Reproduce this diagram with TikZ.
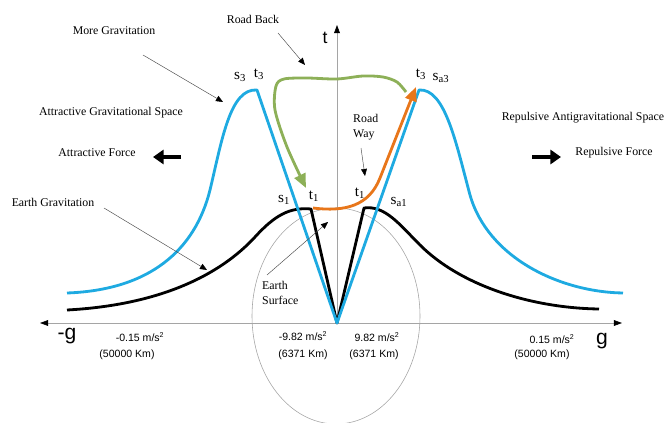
\documentclass[tikz,border=0pt]{standalone}
\usepackage{fontspec}
\setmainfont{Liberation Serif}
\setsansfont{Liberation Sans}
\usetikzlibrary{arrows.meta, positioning}
\definecolor{skyblue}{RGB}{30,170,225}
\definecolor{roadorange}{RGB}{232,118,26}
\definecolor{roadgreen}{RGB}{141,176,88}
\definecolor{axisgray}{RGB}{165,165,165}

\begin{document}
\begin{tikzpicture}[x=0.03cm, y=-0.03cm,
  txt/.style={font=\fontsize{10.1}{12.8}\selectfont, inner sep=0pt},
  numtxt/.style={font=\sffamily\fontsize{9}{11}\selectfont, inner sep=0pt},
  pointtxt/.style={font=\fontsize{13}{15}\selectfont, inner sep=0pt},
  axis/.style={axisgray, line width=0.6pt, -{Triangle[length=7pt,width=5pt,color=black]}},
  note/.style={black!70, line width=0.4pt, -{Triangle[length=6pt,width=5pt,color=black]}},
  force/.style={line width=3pt, -{Triangle[length=9pt,width=12pt]}},
  curve/.style={line width=2.4pt, line join=round},
  road/.style={line width=2.4pt, -{Triangle[length=12pt,width=10pt]}}]
  \useasboundingbox (0,0) rectangle (669,423);
  % earth
  \draw[axisgray, line width=0.5pt] (336,316) ellipse (84 and 108);
  % axes
  \coordinate (O) at (337,323);
  \coordinate (gneg) at (40,323);
  \coordinate (gpos) at (622,323);
  \coordinate (ttop) at (337,25);
  \draw[axis] (O) -- (gneg);
  \draw[axis] (O) -- (gpos);
  \draw[axis] (O) -- (ttop);
  \node[font=\sffamily\fontsize{18}{20}\selectfont, inner sep=0pt] (gminus) at (67,336) {-g};
  \node[font=\sffamily\fontsize{18}{20}\selectfont, inner sep=0pt] (gplus) at (602,341) {g};
  \node[font=\sffamily\fontsize{15}{17}\selectfont, inner sep=0pt] (tlabel) at (325,38) {t};
  % earth gravitation
  \draw[curve] (67,310) .. controls (160,305) and (220,275) .. (255,237)
    .. controls (275,215) and (290,207) .. (311,209) -- (O)
    -- (364,208) .. controls (385,205) and (400,225) .. (420,245)
    .. controls (460,285) and (530,308) .. (599,309);
  % more gravitation
  \draw[curve, skyblue] (67,293) .. controls (150,290) and (195,250) .. (210,190)
    .. controls (222,140) and (230,88) .. (257,90) -- (O)
    -- (419,90) .. controls (445,88) and (456,143) .. (470,195)
    .. controls (488,258) and (560,292) .. (623,293);
  % road way and road back
  \draw[road, roadorange] (313,208) .. controls (345,212) and (369,206) .. (380,178) -- (416,87);
  \draw[road, roadgreen] plot[smooth] coordinates {(406,92) (397,82) (383,77) (363,76)
    (337,79) (307,78) (284,79) (276,86) (275,110) (287,147) (306,188)};
  % point labels
  \node[pointtxt] (s3) at (240,77) {s\textsubscript{3}};
  \node[pointtxt] (t3l) at (259,74) {t\textsubscript{3}};
  \node[pointtxt] (t3r) at (421,74) {t\textsubscript{3}};
  \node[pointtxt] (sa3) at (441,78) {s\textsubscript{a3}};
  \node[pointtxt] (s1) at (284,200) {s\textsubscript{1}};
  \node[pointtxt] (t1l) at (314,196) {t\textsubscript{1}};
  \node[pointtxt] (t1r) at (360,193) {t\textsubscript{1}};
  \node[pointtxt] (sa1) at (399,202) {s\textsubscript{a1}};
  % texts
  \node[txt] (roadback) at (253,19) {Road Back};
  \node[txt] (moregrav) at (114,31) {More Gravitation};
  \node[txt] (attspace) at (111,113) {Attractive Gravitational Space};
  \node[txt] (attforce) at (97,153) {Attractive Force};
  \node[txt] (earthgrav) at (53,202) {Earth Gravitation};
  \node[txt, align=left, anchor=west] (earthsurf) at (262,293) {Earth\\Surface};
  \node[txt, align=left, anchor=west] (roadway) at (353,127) {Road\\Way};
  \node[txt] (repspace) at (583,118) {Repulsive Antigravitational Space};
  \node[txt] (repforce) at (614,153) {Repulsive Force};
  % values
  \node[numtxt] (accnegfar) at (140,337) {-0.15 m/s\textsuperscript{2}};
  \node[numtxt] (distnegfar) at (127,355) {(50000 Km)};
  \node[numtxt] (accneg) at (303,336) {-9.82 m/s\textsuperscript{2}};
  \node[numtxt] (distneg) at (303,355) {(6371 Km)};
  \node[numtxt] (accpos) at (377,337) {9.82 m/s\textsuperscript{2}};
  \node[numtxt] (distpos) at (374,355) {(6371 Km)};
  \node[numtxt] (accposfar) at (552,339) {0.15 m/s\textsuperscript{2}};
  \node[numtxt] (distposfar) at (542,355) {(50000 Km)};
  % pointers
  \coordinate (rbA) at (278,33);  \coordinate (rbB) at (305,65);
  \coordinate (mgA) at (143,55);  \coordinate (mgB) at (223,102);
  \coordinate (egA) at (104,208); \coordinate (egB) at (207,270);
  \coordinate (esA) at (267,275); \coordinate (esB) at (328,222);
  \coordinate (rwA) at (361,148); \coordinate (rwB) at (365,176);
  \draw[note] (rbA) -- (rbB);
  \draw[note] (mgA) -- (mgB);
  \draw[note] (egA) -- (egB);
  \draw[note] (esA) -- (esB);
  \draw[note] (rwA) -- (rwB);
  % forces
  \coordinate (afA) at (181,157); \coordinate (afB) at (153,157);
  \coordinate (rfA) at (532,157); \coordinate (rfB) at (561,157);
  \draw[force] (afA) -- (afB);
  \draw[force] (rfA) -- (rfB);
\end{tikzpicture}
\end{document}
